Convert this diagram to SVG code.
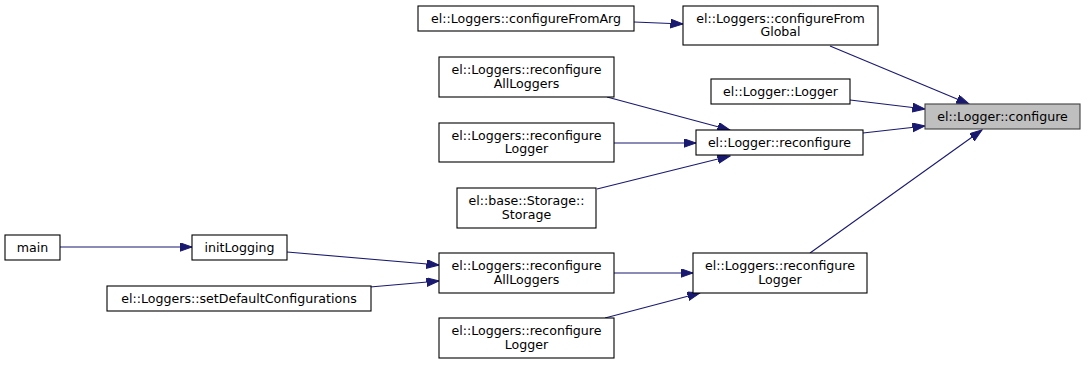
<svg xmlns="http://www.w3.org/2000/svg" width="1085" height="365" viewBox="0 0 1085 365">
  <style>
    .node rect { fill: #ffffff; stroke: #000000; stroke-width: 1.1; }
    .node.current rect { fill: #bfbfbf; stroke: #404040; }
    .node text { font-family: "DejaVu Sans", "Liberation Sans", sans-serif; font-size: 12.6px; fill: #000000; text-anchor: middle; }
    .edge { stroke: #191970; stroke-width: 1.1; fill: none; marker-end: url(#arrow); }
  </style>
  <defs>
    <marker id="arrow" markerWidth="14" markerHeight="10" refX="12.5" refY="4.4" orient="auto" markerUnits="userSpaceOnUse">
      <path d="M0,0 L12.5,4.4 L0,8.8 Z" fill="#191970" stroke="#191970" stroke-width="1"/>
    </marker>
  </defs>
  <rect width="1085" height="365" fill="#ffffff"/>

  <g id="connectors">
    <line class="edge" x1="634" y1="22" x2="683" y2="24"/>
    <line class="edge" x1="830" y1="46" x2="969" y2="104"/>
    <line class="edge" x1="850" y1="100" x2="925" y2="109"/>
    <line class="edge" x1="863" y1="133" x2="925" y2="126"/>
    <line class="edge" x1="810" y1="253" x2="982" y2="130"/>
    <line class="edge" x1="607" y1="97" x2="730" y2="130"/>
    <line class="edge" x1="614" y1="143" x2="696" y2="143"/>
    <line class="edge" x1="597" y1="189" x2="730" y2="156"/>
    <line class="edge" x1="60" y1="247" x2="192" y2="247"/>
    <line class="edge" x1="287" y1="252" x2="439" y2="265"/>
    <line class="edge" x1="370" y1="287" x2="439" y2="281"/>
    <line class="edge" x1="614" y1="273" x2="693" y2="273"/>
    <line class="edge" x1="605" y1="318" x2="700" y2="293"/>
  </g>

  <g id="node-configureFromArg" class="node">
    <rect x="418" y="6" width="216" height="25"/>
    <text x="526" y="23">el::Loggers::configureFromArg</text>
  </g>
  <g id="node-configureFromGlobal" class="node">
    <rect x="683" y="6" width="195" height="39"/>
    <text x="780.5" y="22.5">el::Loggers::configureFrom</text>
    <text x="780.5" y="36">Global</text>
  </g>
  <g id="node-reconfigureAllLoggers-a" class="node">
    <rect x="439" y="57" width="175" height="40"/>
    <text x="526.5" y="74">el::Loggers::reconfigure</text>
    <text x="526.5" y="87.5">AllLoggers</text>
  </g>
  <g id="node-Logger" class="node">
    <rect x="711" y="79" width="139" height="25"/>
    <text x="780.5" y="96">el::Logger::Logger</text>
  </g>
  <g id="node-configure" class="node current">
    <rect x="925" y="104" width="155" height="25"/>
    <text x="1002.5" y="121">el::Logger::configure</text>
  </g>
  <g id="node-reconfigure" class="node">
    <rect x="696" y="130" width="167" height="25"/>
    <text x="779.5" y="147">el::Logger::reconfigure</text>
  </g>
  <g id="node-reconfigureLogger-a" class="node">
    <rect x="439" y="123" width="175" height="39"/>
    <text x="526.5" y="139.5">el::Loggers::reconfigure</text>
    <text x="526.5" y="153">Logger</text>
  </g>
  <g id="node-Storage" class="node">
    <rect x="457" y="188" width="139" height="40"/>
    <text x="526.5" y="205">el::base::Storage::</text>
    <text x="526.5" y="218.5">Storage</text>
  </g>
  <g id="node-main" class="node">
    <rect x="5" y="235" width="55" height="25"/>
    <text x="32.5" y="252">main</text>
  </g>
  <g id="node-initLogging" class="node">
    <rect x="192" y="235" width="95" height="25"/>
    <text x="239.5" y="252">initLogging</text>
  </g>
  <g id="node-setDefaultConfigurations" class="node">
    <rect x="107" y="286" width="264" height="25"/>
    <text x="239" y="303">el::Loggers::setDefaultConfigurations</text>
  </g>
  <g id="node-reconfigureAllLoggers-b" class="node">
    <rect x="439" y="253" width="175" height="40"/>
    <text x="526.5" y="270">el::Loggers::reconfigure</text>
    <text x="526.5" y="283.5">AllLoggers</text>
  </g>
  <g id="node-reconfigureLogger-b" class="node">
    <rect x="693" y="253" width="174" height="40"/>
    <text x="780" y="270">el::Loggers::reconfigure</text>
    <text x="780" y="283.5">Logger</text>
  </g>
  <g id="node-reconfigureLogger-c" class="node">
    <rect x="439" y="318" width="175" height="40"/>
    <text x="526.5" y="335">el::Loggers::reconfigure</text>
    <text x="526.5" y="348.5">Logger</text>
  </g>
</svg>
